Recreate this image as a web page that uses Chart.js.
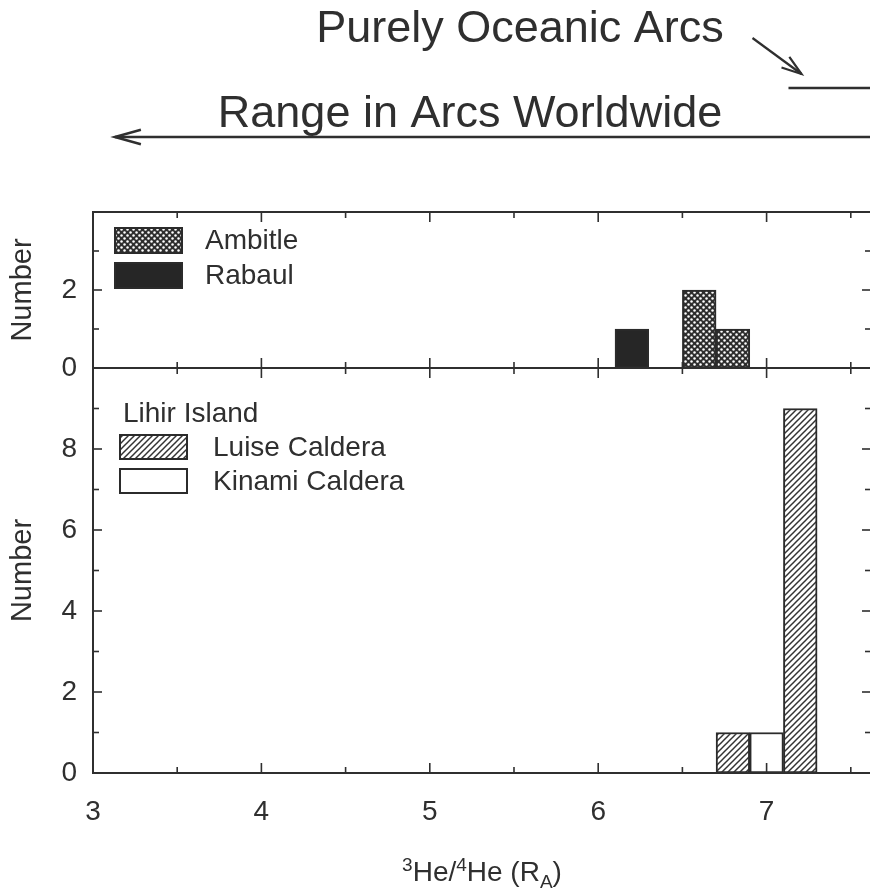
<!DOCTYPE html>
<html>
<head>
<meta charset="utf-8">
<script src="https://cdn.jsdelivr.net/npm/chart.js@4"></script>
<style>
html,body{margin:0;padding:0;background:#fff;overflow:hidden;width:870px;height:891px;}
#wrap{position:relative;width:870px;height:891px;overflow:hidden;background:#fff;}
canvas{position:absolute;left:0;}
#c1{top:0;}
#c2{top:360px;}
</style>
</head>
<body>
<div id="wrap">
<canvas id="c1" width="880" height="392"></canvas>
<canvas id="c2" width="880" height="531"></canvas>
</div>
<script>
// ---------------- data ----------------
const xMajorTicks = [3, 4, 5, 6, 7];
const xMinorTicks = [3.5, 4.5, 5.5, 6.5, 7.5];
const xMin = 3, xMax = 7.62;
const binWidth = 0.2;

// upper panel
const ambitleLabel = 'Ambitle';
const ambitleBinStarts = [6.5, 6.7];
const ambitleCounts = [2, 1];
const rabaulLabel = 'Rabaul';
const rabaulBinStarts = [6.1];
const rabaulCounts = [1];
const topYTicks = [0, 1, 2, 3, 4];
const topYLabels = [0, 2];

// lower panel
const lowerLegendTitle = 'Lihir Island';
const luiseLabel = 'Luise Caldera';
const luiseBinStarts = [6.7, 7.1];
const luiseCounts = [1, 9];
const kinamiLabel = 'Kinami Caldera';
const kinamiBinStarts = [6.9];
const kinamiCounts = [1];
const bottomYTicks = [0, 1, 2, 3, 4, 5, 6, 7, 8, 9, 10];
const bottomYLabels = [0, 2, 4, 6, 8];

// annotation ranges (in 3He/4He units)
const oceanicText = 'Purely Oceanic Arcs';
const oceanicRange = [7.13, 8.5];
const worldwideText = 'Range in Arcs Worldwide';
const worldwideRange = [3.13, 8.5];

const yTitle = 'Number';
const xTitleParts = [['3','sup'], ['He/',''], ['4','sup'], ['He (R',''], ['A','sub'], [')','']];

// ---------------- style ----------------
const INK = '#2f2f2f';
const FONT = '"Liberation Sans", Arial, Helvetica, sans-serif';

function dotPattern() {
  const c = document.createElement('canvas'); c.width = 6; c.height = 6;
  const g = c.getContext('2d');
  g.fillStyle = '#2e2e2e'; g.fillRect(0, 0, 6, 6);
  g.fillStyle = '#ffffff';
  [[1.5, 1.5], [4.5, 4.5]].forEach(([a, b]) => { g.beginPath(); g.arc(a, b, 1.25, 0, Math.PI * 2); g.fill(); });
  return g.createPattern(c, 'repeat');
}
function hatchPattern() {
  const s = 6;
  const c = document.createElement('canvas'); c.width = s; c.height = s;
  const g = c.getContext('2d');
  g.fillStyle = '#ffffff'; g.fillRect(0, 0, s, s);
  g.strokeStyle = '#333'; g.lineWidth = 1.5;
  [[0, s, s, 0], [-1, 1, 1, -1], [s - 1, s + 1, s + 1, s - 1]].forEach(([a, b, c2, d]) => {
    g.beginPath(); g.moveTo(a, b); g.lineTo(c2, d); g.stroke();
  });
  return g.createPattern(c, 'repeat');
}

const toPoints = (starts, counts) => starts.map((s, i) => ({ x: s + binWidth / 2, y: counts[i] }));

// ---------------- plugins ----------------
const frameTicks = {
  id: 'frameTicks',
  afterDraw(chart) {
    const { ctx, chartArea: a, scales: { x, y } } = chart;
    ctx.save();
    ctx.strokeStyle = INK;
    const line = (x1, y1, x2, y2) => { ctx.beginPath(); ctx.moveTo(x1, y1); ctx.lineTo(x2, y2); ctx.stroke(); };
    ctx.lineWidth = 1.6;
    x.ticks.forEach(t => {
      const px = x.getPixelForValue(t.value);
      const len = xMajorTicks.includes(t.value) ? 10 : 6;
      line(px, a.bottom, px, a.bottom - len);
      line(px, a.top, px, a.top + len);
    });
    const labels = chart.options.plugins.frameTicks.yLabels;
    y.ticks.forEach(t => {
      const py = y.getPixelForValue(t.value);
      const len = labels.includes(t.value) ? 9 : 6;
      line(a.left, py, a.left + len, py);
      line(a.right, py, a.right - len, py);
    });
    ctx.lineWidth = 2;
    ctx.strokeRect(a.left, a.top, a.right - a.left, a.bottom - a.top);
    ctx.restore();
  }
};

const boxLegend = {
  id: 'boxLegend',
  afterDraw(chart, args, o) {
    const { ctx, chartArea: a } = chart;
    ctx.save();
    ctx.font = `28px ${FONT}`;
    ctx.fillStyle = INK;
    ctx.textBaseline = 'middle';
    ctx.textAlign = 'left';
    if (o.title) ctx.fillText(o.title, a.left + o.titleDx, a.top + o.titleDy);
    chart.data.datasets.forEach((ds, i) => {
      const bx = a.left + o.dx, by = a.top + o.dy + i * o.step;
      ctx.fillStyle = ds.backgroundColor;
      ctx.fillRect(bx, by, o.w, o.h);
      ctx.strokeStyle = '#2b2b2b'; ctx.lineWidth = 2;
      ctx.strokeRect(bx, by, o.w, o.h);
      ctx.fillStyle = INK;
      ctx.fillText(ds.label, bx + o.textDx, by + o.h / 2 + 1);
    });
    ctx.restore();
  }
};

function arrowHead(ctx, tipX, tipY, fromX, fromY, len, ang) {
  const th = Math.atan2(tipY - fromY, tipX - fromX);
  ctx.beginPath();
  ctx.moveTo(tipX - len * Math.cos(th - ang), tipY - len * Math.sin(th - ang));
  ctx.lineTo(tipX, tipY);
  ctx.lineTo(tipX - len * Math.cos(th + ang), tipY - len * Math.sin(th + ang));
  ctx.stroke();
}

const rangeNotes = {
  id: 'rangeNotes',
  afterDraw(chart) {
    const { ctx, scales: { x } } = chart;
    ctx.save();
    ctx.fillStyle = INK; ctx.strokeStyle = INK;
    ctx.font = `45px ${FONT}`;
    ctx.textAlign = 'center'; ctx.textBaseline = 'alphabetic';
    ctx.fillText(oceanicText, 520, 42);
    ctx.fillText(worldwideText, 470, 127);
    ctx.lineWidth = 2.5;
    // worldwide range
    const w0 = x.getPixelForValue(worldwideRange[0]), w1 = x.getPixelForValue(worldwideRange[1]);
    ctx.beginPath(); ctx.moveTo(w0, 137); ctx.lineTo(w1, 137); ctx.stroke();
    arrowHead(ctx, w0, 137, w0 + 10, 137, 27, 0.27);
    // oceanic range
    const o0 = x.getPixelForValue(oceanicRange[0]), o1 = x.getPixelForValue(oceanicRange[1]);
    ctx.beginPath(); ctx.moveTo(o0, 88); ctx.lineTo(o1, 88); ctx.stroke();
    // pointer
    ctx.lineWidth = 2.2;
    const tx = o0 + 13, ty = 74, fx = o0 - 36, fy = 38;
    ctx.beginPath(); ctx.moveTo(fx, fy); ctx.lineTo(tx, ty); ctx.stroke();
    arrowHead(ctx, tx, ty, fx, fy, 21, 0.32);
    ctx.restore();
  }
};

const xTitle = {
  id: 'xTitle',
  afterDraw(chart) {
    const { ctx, chartArea: a } = chart;
    ctx.save();
    ctx.fillStyle = INK; ctx.textBaseline = 'alphabetic'; ctx.textAlign = 'left';
    const big = `28px ${FONT}`, small = `19px ${FONT}`;
    const widths = xTitleParts.map(([t, k]) => { ctx.font = k ? small : big; return ctx.measureText(t).width; });
    const total = widths.reduce((s, v) => s + v, 0);
    let cx = (a.left + a.right) / 2 - total / 2;
    const base = a.bottom + 108;
    xTitleParts.forEach(([t, k], i) => {
      ctx.font = k ? small : big;
      const dy = k === 'sup' ? -10 : k === 'sub' ? 7 : 0;
      ctx.fillText(t, cx, base + dy);
      cx += widths[i];
    });
    ctx.restore();
  }
};

const zeroPad = s => { s.paddingTop = 0; s.paddingBottom = 0; s.paddingLeft = 0; s.paddingRight = 0; };

// ---------------- chart builder ----------------
function makeChart(canvas, datasets, cfg) {
  return new Chart(canvas, {
    type: 'bar',
    data: { datasets },
    options: {
      responsive: false,
      animation: false,
      devicePixelRatio: 1,
      layout: { padding: { top: cfg.padTop, right: 9, left: 0, bottom: 0 } },
      datasets: { bar: { grouped: false, barPercentage: 1, categoryPercentage: 1, borderWidth: 2, borderColor: '#2b2b2b', borderSkipped: false } },
      scales: {
        x: {
          type: 'linear', min: xMin, max: xMax, offset: false,
          afterBuildTicks: s => { s.ticks = [...xMajorTicks, ...xMinorTicks].sort((p, q) => p - q).map(v => ({ value: v })); },
          afterFit: s => { s.height = cfg.xHeight; zeroPad(s); },
          grid: { display: false, drawTicks: false, offset: false },
          border: { display: false },
          ticks: {
            display: cfg.showXLabels, autoSkip: false, maxRotation: 0, padding: 22,
            color: INK, font: { family: FONT, size: 28 },
            callback: v => xMajorTicks.includes(v) ? String(v) : ''
          }
        },
        y: {
          min: 0, max: cfg.yTicks[cfg.yTicks.length - 1],
          afterBuildTicks: s => { s.ticks = cfg.yTicks.map(v => ({ value: v })); },
          afterFit: s => { s.width = 93; zeroPad(s); },
          grid: { display: false, drawTicks: false },
          border: { display: false },
          ticks: {
            autoSkip: false, padding: 16, color: INK, font: { family: FONT, size: 28 },
            callback: v => cfg.yLabels.includes(v) ? String(v) : ''
          },
          title: { display: true, text: yTitle, color: INK, font: { family: FONT, size: 29 }, padding: { top: 6, bottom: 0 } }
        }
      },
      plugins: {
        legend: { display: false },
        tooltip: { enabled: false },
        frameTicks: { yLabels: cfg.yLabels },
        boxLegend: cfg.legend
      }
    },
    plugins: cfg.plugins
  });
}

makeChart(document.getElementById('c1'), [
  { label: ambitleLabel, data: toPoints(ambitleBinStarts, ambitleCounts), backgroundColor: dotPattern() },
  { label: rabaulLabel, data: toPoints(rabaulBinStarts, rabaulCounts), backgroundColor: '#262626' }
], {
  padTop: 212, xHeight: 24, showXLabels: false, yTicks: topYTicks, yLabels: topYLabels,
  legend: { title: null, dx: 22, dy: 16, step: 35, w: 67, h: 25, textDx: 90 },
  plugins: [frameTicks, boxLegend, rangeNotes]
});

makeChart(document.getElementById('c2'), [
  { label: luiseLabel, data: toPoints(luiseBinStarts, luiseCounts), backgroundColor: hatchPattern() },
  { label: kinamiLabel, data: toPoints(kinamiBinStarts, kinamiCounts), backgroundColor: '#ffffff' }
], {
  padTop: 8, xHeight: 118, showXLabels: true, yTicks: bottomYTicks, yLabels: bottomYLabels,
  legend: { title: lowerLegendTitle, titleDx: 30, titleDy: 46, dx: 27, dy: 67, step: 34, w: 67, h: 24, textDx: 93 },
  plugins: [frameTicks, boxLegend, xTitle]
});
</script>
</body>
</html>
